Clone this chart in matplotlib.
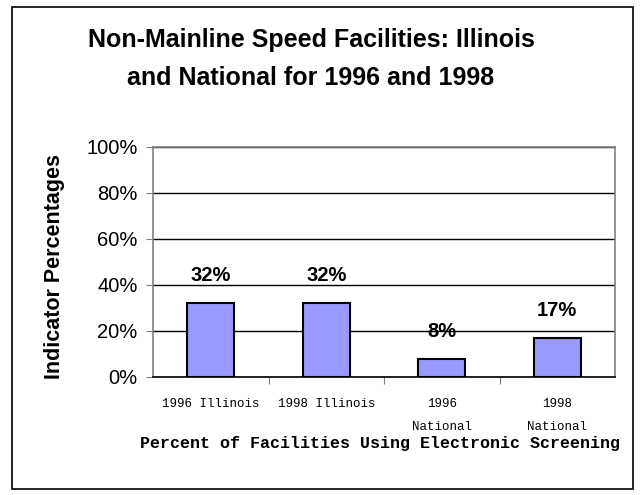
import matplotlib
matplotlib.use("Agg")
import matplotlib.pyplot as plt
from matplotlib.patches import Rectangle

# data
categories = ["1996 Illinois", "1998 Illinois", "1996\nNational", "1998\nNational"]
values = [32, 32, 8, 17]
value_labels = ["32%", "32%", "8%", "17%"]
yticks = [0, 20, 40, 60, 80, 100]
ytick_labels = ["0%", "20%", "40%", "60%", "80%", "100%"]

plt.rcParams['font.family'] = ['Liberation Sans', 'DejaVu Sans']

fig = plt.figure(figsize=(6.4, 4.95), dpi=100)
W, H = 640, 495

# outer border of the chart area
fig.patches.append(Rectangle((12 / W, 1 - 489 / H), (633 - 12) / W, (489 - 7) / H,
                             transform=fig.transFigure, fill=False,
                             edgecolor="black", linewidth=1.2))

ax = fig.add_axes([153 / W, 1 - 377 / H, (615 - 153) / W, (377 - 147) / H])

x = list(range(len(categories)))
ax.bar(x, values, width=0.41, color="#9999ff", edgecolor="black", linewidth=1.5, zorder=3)

for xi, v, lab in zip(x, values, value_labels):
    ax.annotate(lab, (xi, v), xytext=(0, 13), textcoords="offset points",
                ha="center", va="bottom", fontsize=14.5, fontweight="bold")

ax.set_xlim(-0.5, len(categories) - 0.5)
ax.set_ylim(0, 100)
ax.set_yticks(yticks)
ax.set_yticklabels(ytick_labels, fontsize=14.5)
ax.yaxis.grid(True, color="black", linewidth=1)
ax.set_axisbelow(True)

# ticks at category boundaries, labels at centers
ax.set_xticks([i + 0.5 for i in x[:-1]])
ax.set_xticklabels([])
ax.set_xticks(x, minor=True)
ax.set_xticklabels(categories, minor=True, family=["Liberation Mono"], fontsize=9,
                   linespacing=2.2)
ax.tick_params(axis="x", which="minor", length=0, pad=15)
ax.tick_params(axis="x", which="major", length=5, direction="out", color="gray")
ax.tick_params(axis="y", length=5, direction="out", color="gray", pad=6)

for s in ax.spines.values():
    s.set_color("gray")
    s.set_linewidth(1.2)
ax.spines["bottom"].set_color("black")

ax.set_ylabel("Indicator Percentages", fontsize=15.5, fontweight="bold")
ax.yaxis.set_label_coords(-0.19, 0.48)
ax.set_xlabel("Percent of Facilities Using Electronic Screening",
              family=["Liberation Mono"], fontsize=12, fontweight="bold")
ax.xaxis.set_label_coords(0.491, -0.255)

fig.text(311 / W, 1 - 47 / H, "Non-Mainline Speed Facilities: Illinois",
         ha="center", va="baseline", fontsize=18, fontweight="bold")
fig.text(311 / W, 1 - 85 / H, "and National for 1996 and 1998",
         ha="center", va="baseline", fontsize=18, fontweight="bold")

fig.savefig("out.png", dpi=100)
